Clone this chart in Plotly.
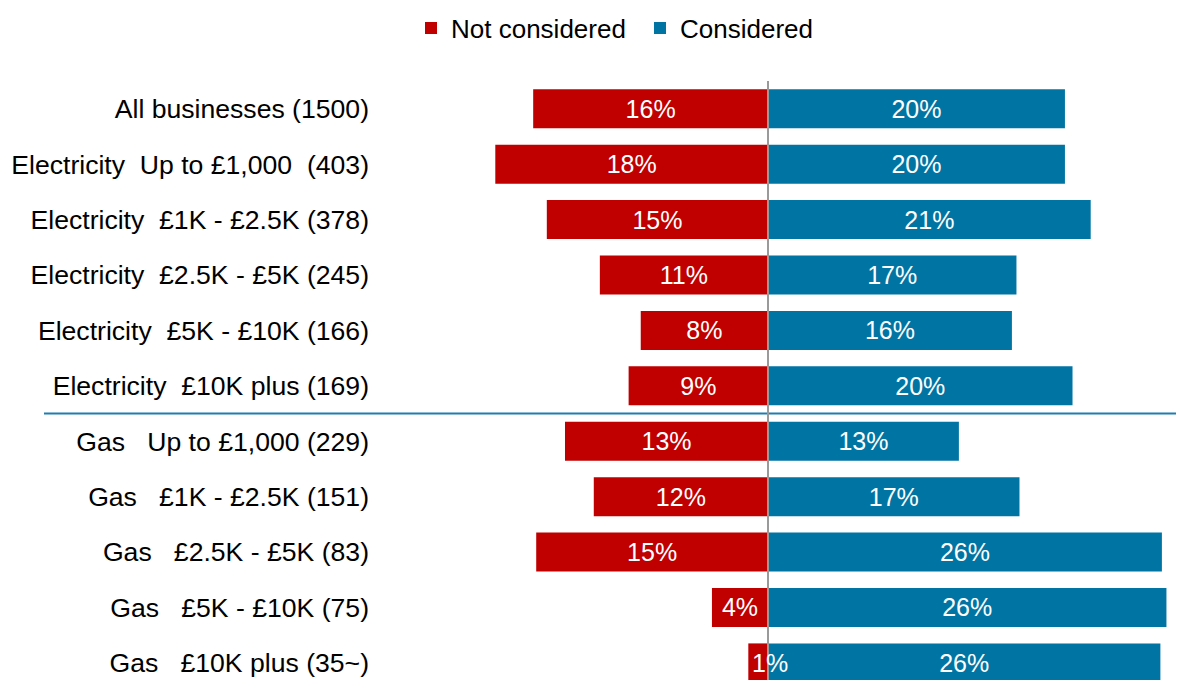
import plotly.graph_objects as go

# ---- data ----
categories = [
    "All businesses (1500)",
    "Electricity\u00a0 Up to £1,000\u00a0 (403)",
    "Electricity\u00a0 £1K - £2.5K (378)",
    "Electricity\u00a0 £2.5K - £5K (245)",
    "Electricity\u00a0 £5K - £10K (166)",
    "Electricity\u00a0 £10K plus (169)",
    "Gas\u00a0\u00a0 Up to £1,000 (229)",
    "Gas\u00a0\u00a0 £1K - £2.5K (151)",
    "Gas\u00a0\u00a0 £2.5K - £5K (83)",
    "Gas\u00a0\u00a0 £5K - £10K (75)",
    "Gas\u00a0\u00a0 £10K plus (35~)",
]
not_considered = [15.5, 18.0, 14.6, 11.1, 8.4, 9.2, 13.4, 11.5, 15.3, 3.7, 1.3]
considered = [19.6, 19.6, 21.3, 16.4, 16.1, 20.1, 12.6, 16.6, 26.0, 26.3, 25.9]
not_considered_labels = ["16%", "18%", "15%", "11%", "8%", "9%", "13%", "12%", "15%", "4%", "1%"]
considered_labels = ["20%", "20%", "21%", "17%", "16%", "20%", "13%", "17%", "26%", "26%", "26%"]

# ---- style / layout ----
RED = "#C00000"
BLUE = "#0075A4"
FONT = "Liberation Sans, Arial, sans-serif"
BODY = 8  # default page margin around the figure
W, H = 1184 - BODY, 680 - BODY
ML, MR, MT, MB = 376 - BODY, 0, 81 - BODY, 0
CENTER_PX = 768 - BODY
PX_PER_UNIT = 15.15
FIRST_BAR_PX = 108.8 - BODY   # centre of first category (figure px)
PX_PER_CAT = 55.41
plot_w = W - ML - MR
plot_h = H - MT - MB
x_range = [-(CENTER_PX - ML) / PX_PER_UNIT, (W - MR - CENTER_PX) / PX_PER_UNIT]
y_range = [(H - MB - FIRST_BAR_PX) / PX_PER_CAT, (MT - FIRST_BAR_PX) / PX_PER_CAT]
BAR_W = 0.704

# labels that don't fit inside their bar are drawn as annotations
SMALL = 2.0
nc_inside = [t if v >= SMALL else "" for v, t in zip(not_considered, not_considered_labels)]

fig = go.Figure()
fig.add_trace(go.Bar(
    y=categories, x=considered, orientation="h", name="Considered",
    marker=dict(color=BLUE, line=dict(width=0)), width=BAR_W,
    text=considered_labels, textposition="inside", insidetextanchor="middle",
    constraintext="none", textangle=0,
    insidetextfont=dict(color="white", size=25, family=FONT),
    legendrank=2, hoverinfo="skip",
))
fig.add_trace(go.Bar(
    y=categories, x=[-v for v in not_considered], orientation="h", name="Not considered",
    marker=dict(color=RED, line=dict(width=0)), width=BAR_W,
    text=nc_inside, textposition="inside", insidetextanchor="middle",
    constraintext="none", textangle=0,
    insidetextfont=dict(color="white", size=25, family=FONT),
    legendrank=1, hoverinfo="skip",
))

for v, t, c in zip(not_considered, not_considered_labels, categories):
    if v < SMALL:
        fig.add_annotation(x=-v, y=c, xref="x", yref="y", text=t, showarrow=False,
                           xanchor="left", yanchor="middle", xshift=2,
                           font=dict(color="white", size=25, family=FONT))

# separator between electricity and gas groups
fig.add_shape(type="line", xref="paper", yref="y",
              x0=(44 - BODY - ML) / plot_w, x1=1.0, y0=5.5, y1=5.5,
              line=dict(color="#1F7DB2", width=2), layer="above")
# centre line
fig.add_shape(type="line", xref="x", yref="paper",
              x0=0, x1=0, y0=0, y1=1,
              line=dict(color="#9A9A9A", width=2), layer="above")

fig.update_layout(
    width=W, height=H,
    margin=dict(l=ML, r=MR, t=MT, b=MB, pad=0, autoexpand=False),
    barmode="relative",
    plot_bgcolor="white", paper_bgcolor="white",
    font=dict(family=FONT, size=26, color="black"),
    showlegend=True,
    legend=dict(orientation="h", xref="container", yref="container",
                x=(640 - BODY) / W, xanchor="center",
                y=1 - (28 - BODY) / H, yanchor="middle",
                entrywidth=184, entrywidthmode="pixels",
                font=dict(size=26, color="black", family=FONT),
                bgcolor="rgba(0,0,0,0)", itemclick=False),
    xaxis=dict(range=x_range, visible=False, showgrid=False, zeroline=False,
               fixedrange=True, automargin=False),
    yaxis=dict(range=y_range, type="category", showgrid=False, zeroline=False,
               showline=False, ticks="", ticklabelstandoff=6, automargin=False,
               tickfont=dict(size=26.6, color="black", family=FONT), fixedrange=True),
)

fig.write_html("out.html", config={"displayModeBar": False})
